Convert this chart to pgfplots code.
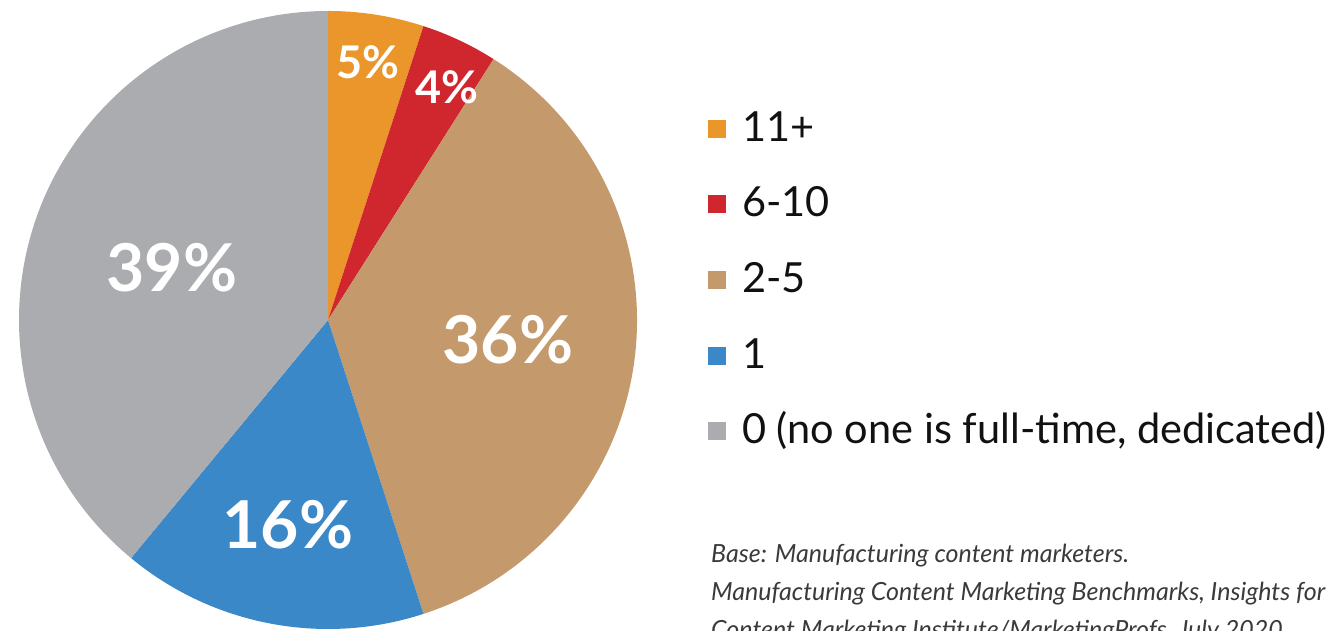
\documentclass[border=0pt]{standalone}
\usepackage{pgfplots}
\pgfplotsset{compat=1.18}
\usepackage{fontspec}
\setmainfont{Lato}
\definecolor{cOrange}{HTML}{EA962A}
\definecolor{cRed}{HTML}{D0262E}
\definecolor{cTan}{HTML}{C4996C}
\definecolor{cBlue}{HTML}{3A88C8}
\definecolor{cGray}{HTML}{ABACB0}
\definecolor{cText}{HTML}{111111}
\definecolor{cNote}{HTML}{3A3A3A}
\begin{document}
\begin{tikzpicture}[x=1pt,y=1pt]
\useasboundingbox (0,0) rectangle (1331,631);
\clip (0,0) rectangle (1331,631);
% shares (percent), clockwise from 12 o'clock
\def\vA{5}\def\vB{4}\def\vC{36}\def\vD{16}\def\vE{39}
\pgfmathsetmacro{\aZ}{90}
\pgfmathsetmacro{\aA}{\aZ-3.6*\vA}
\pgfmathsetmacro{\aB}{\aA-3.6*\vB}
\pgfmathsetmacro{\aC}{\aB-3.6*\vC}
\pgfmathsetmacro{\aD}{\aC-3.6*\vD}
\pgfmathsetmacro{\aE}{\aD-3.6*\vE}
\begin{axis}[at={(0,0)},anchor=origin,x=1pt,y=1pt,
  xmin=0,xmax=1331,ymin=0,ymax=631,hide axis,clip=false]
\addplot[draw=none] coordinates {(0,0) (1331,631)};
\fill[cOrange] (axis cs:328,311) -- ++(\aZ:309pt) arc[start angle=\aZ,end angle=\aA,radius=309pt] -- cycle;
\fill[cRed] (axis cs:328,311) -- ++(\aA:309pt) arc[start angle=\aA,end angle=\aB,radius=309pt] -- cycle;
\fill[cTan] (axis cs:328,311) -- ++(\aB:309pt) arc[start angle=\aB,end angle=\aC,radius=309pt] -- cycle;
\fill[cBlue] (axis cs:328,311) -- ++(\aC:309pt) arc[start angle=\aC,end angle=\aD,radius=309pt] -- cycle;
\fill[cGray] (axis cs:328,311) -- ++(\aD:309pt) arc[start angle=\aD,end angle=\aE,radius=309pt] -- cycle;
% slice labels
\node[text=white,font=\fontsize{45}{50}\selectfont\bfseries] at (axis cs:368,569) {5\%};
\node[text=white,font=\fontsize{45}{50}\selectfont\bfseries] at (axis cs:447,544) {4\%};
\node[text=white,font=\fontsize{66}{72}\selectfont\bfseries] at (axis cs:508,291) {36\%};
\node[text=white,font=\fontsize{66}{72}\selectfont\bfseries] at (axis cs:288,106) {16\%};
\node[text=white,font=\fontsize{66}{72}\selectfont\bfseries] at (axis cs:172,363) {39\%};
% legend
\fill[cOrange] (axis cs:708,493) rectangle (axis cs:726,511);
\fill[cRed] (axis cs:708,418) rectangle (axis cs:726,436);
\fill[cTan] (axis cs:708,342) rectangle (axis cs:726,360);
\fill[cBlue] (axis cs:708,266) rectangle (axis cs:726,284);
\fill[cGray] (axis cs:708,191) rectangle (axis cs:726,209);
\node[anchor=base west,inner sep=0pt,text=cText,font=\fontsize{41.5}{48}\selectfont] at (axis cs:742,489) {11+};
\node[anchor=base west,inner sep=0pt,text=cText,font=\fontsize{41.5}{48}\selectfont] at (axis cs:742,414) {6-10};
\node[anchor=base west,inner sep=0pt,text=cText,font=\fontsize{41.5}{48}\selectfont] at (axis cs:742,338) {2-5};
\node[anchor=base west,inner sep=0pt,text=cText,font=\fontsize{41.5}{48}\selectfont] at (axis cs:742,262) {1};
\node[anchor=base west,inner sep=0pt,text=cText,font=\fontsize{41.5}{48}\selectfont] at (axis cs:742,187) {0 (no one is full-time, dedicated)};
% note
\node[anchor=base west,inner sep=0pt,text=cNote,font=\fontsize{25}{30}\selectfont\itshape] at (axis cs:711,68) {Base: Manufacturing content marketers.};
\node[anchor=base west,inner sep=0pt,text=cNote,font=\fontsize{25}{30}\selectfont\itshape] at (axis cs:711,30) {Manufacturing Content Marketing Benchmarks, Insights for};
\node[anchor=base west,inner sep=0pt,text=cNote,font=\fontsize{25}{30}\selectfont\itshape] at (axis cs:711,-8) {Content Marketing Institute/MarketingProfs, July 2020};
\end{axis}
\end{tikzpicture}
\end{document}
